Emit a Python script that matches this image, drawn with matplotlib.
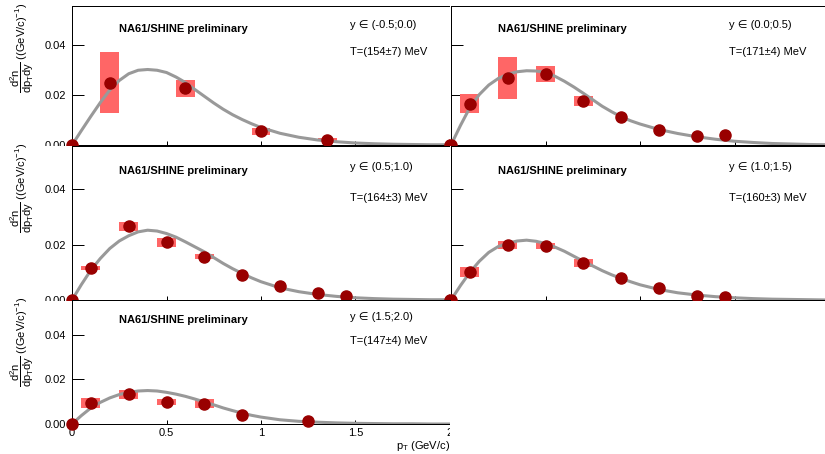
import numpy as np
import matplotlib
matplotlib.use('Agg')
import matplotlib.pyplot as plt
from matplotlib.patches import Rectangle

plt.rcParams['font.family'] = ['Liberation Sans', 'DejaVu Sans']
plt.rcParams['mathtext.fontset'] = 'custom'
plt.rcParams['mathtext.rm'] = 'Liberation Sans'
plt.rcParams['mathtext.it'] = 'Liberation Sans'
plt.rcParams['mathtext.bf'] = 'Liberation Sans:bold'

#####################################################################
# data
#####################################################################
rap_labels = ['y ∈ (-0.5;0.0)', 'y ∈ (0.0;0.5)', 'y ∈ (0.5;1.0)',
              'y ∈ (1.0;1.5)', 'y ∈ (1.5;2.0)']
temp_labels = ['T=(154±7) MeV', 'T=(171±4) MeV', 'T=(164±3) MeV',
               'T=(160±3) MeV', 'T=(147±4) MeV']

pt_1 = [0.0, 0.2, 0.6, 1.0, 1.35, 2.0]
val_1 = [0.0, 0.0247, 0.0227, 0.0056, 0.0020, 0.0]
lo_1 = [0.0, 0.0127, 0.0190, 0.0041, 0.0014, 0.0]
hi_1 = [0.0, 0.0371, 0.0260, 0.0069, 0.0026, 0.0]

pt_2 = [0.0, 0.1, 0.3, 0.5, 0.7, 0.9, 1.1, 1.3, 1.45]
val_2 = [0.0, 0.0164, 0.0267, 0.0284, 0.0177, 0.0111, 0.0060, 0.0036, 0.0040]
lo_2 = [0.0, 0.0127, 0.0183, 0.0253, 0.0156, 0.0111, 0.0060, 0.0036, 0.0040]
hi_2 = [0.0, 0.0203, 0.0353, 0.0316, 0.0196, 0.0111, 0.0060, 0.0036, 0.0040]

pt_3 = [0.0, 0.1, 0.3, 0.5, 0.7, 0.9, 1.1, 1.3, 1.45, 2.0]
val_3 = [0.0, 0.0116, 0.0267, 0.0208, 0.0156, 0.0090, 0.0052, 0.0024, 0.0016, 0.0]
lo_3 = [0.0, 0.0108, 0.0250, 0.0190, 0.0147, 0.0090, 0.0052, 0.0024, 0.0016, 0.0]
hi_3 = [0.0, 0.0122, 0.0280, 0.0225, 0.0166, 0.0090, 0.0052, 0.0024, 0.0016, 0.0]

pt_4 = [0.0, 0.1, 0.3, 0.5, 0.7, 0.9, 1.1, 1.3, 1.45]
val_4 = [0.0, 0.0102, 0.0198, 0.0195, 0.0132, 0.0078, 0.0042, 0.0016, 0.0012]
lo_4 = [0.0, 0.0084, 0.0183, 0.0183, 0.0120, 0.0078, 0.0042, 0.0016, 0.0012]
hi_4 = [0.0, 0.0120, 0.0214, 0.0204, 0.0147, 0.0078, 0.0042, 0.0016, 0.0012]

pt_5 = [0.0, 0.1, 0.3, 0.5, 0.7, 0.9, 1.25]
val_5 = [0.0, 0.0094, 0.0133, 0.0097, 0.0091, 0.0040, 0.0015]
lo_5 = [0.0, 0.0072, 0.0112, 0.0085, 0.0072, 0.0040, 0.0015]
hi_5 = [0.0, 0.0115, 0.0151, 0.0112, 0.0112, 0.0040, 0.0015]

# fitted curves, read every 0.05 GeV/c up to 1, then every 0.1
fit_pt = [0.0, 0.05, 0.1, 0.15, 0.2, 0.25, 0.3, 0.35, 0.4, 0.45, 0.5,
          0.55, 0.6, 0.65, 0.7, 0.75, 0.8, 0.85, 0.9, 0.95, 1.0,
          1.1, 1.2, 1.3, 1.4, 1.5, 1.6, 1.7, 1.8, 1.9, 2.0]
fit_1 = [0.0, 0.0058, 0.0115, 0.0170, 0.0220, 0.0258, 0.0285, 0.0299, 0.0302, 0.0299, 0.0290,
         0.0272, 0.0250, 0.0222, 0.0195, 0.0168, 0.0143, 0.0121, 0.0102, 0.0085, 0.0070,
         0.0047, 0.0031, 0.0020, 0.0013, 0.0008, 0.0005, 0.0003, 0.0002, 0.0001, 0.0001]
fit_2 = [0.0, 0.0078, 0.0150, 0.0202, 0.0240, 0.0266, 0.0283, 0.0293, 0.0297, 0.0296, 0.0290,
         0.0275, 0.0255, 0.0232, 0.0207, 0.0181, 0.0155, 0.0133, 0.0113, 0.0097, 0.0084,
         0.0062, 0.0046, 0.0033, 0.0023, 0.0015, 0.0010, 0.0006, 0.0004, 0.0002, 0.0001]
fit_3 = [0.0, 0.0056, 0.0108, 0.0150, 0.0186, 0.0213, 0.0232, 0.0246, 0.0252, 0.0249, 0.0240,
         0.0227, 0.0210, 0.0192, 0.0174, 0.0153, 0.0132, 0.0113, 0.0096, 0.0080, 0.0066,
         0.0044, 0.0030, 0.0020, 0.0013, 0.0008, 0.0005, 0.0003, 0.0002, 0.0001, 0.0001]
fit_4 = [0.0, 0.0052, 0.0100, 0.0140, 0.0172, 0.0193, 0.0205, 0.0213, 0.0216, 0.0212, 0.0204,
         0.0191, 0.0176, 0.0158, 0.0140, 0.0123, 0.0106, 0.0091, 0.0078, 0.0066, 0.0055,
         0.0038, 0.0026, 0.0018, 0.0012, 0.0008, 0.0005, 0.0003, 0.0002, 0.0001, 0.0000]
fit_5 = [0.0, 0.0038, 0.0072, 0.0097, 0.0117, 0.0132, 0.0142, 0.0148, 0.0150, 0.0148, 0.0142,
         0.0134, 0.0124, 0.0112, 0.0099, 0.0086, 0.0072, 0.0060, 0.0049, 0.0039, 0.0031,
         0.0019, 0.0012, 0.0008, 0.0005, 0.0003, 0.0002, 0.0001, 0.0001, 0.0000, 0.0000]

panels = [
    (pt_1, val_1, lo_1, hi_1, fit_1),
    (pt_2, val_2, lo_2, hi_2, fit_2),
    (pt_3, val_3, lo_3, hi_3, fit_3),
    (pt_4, val_4, lo_4, hi_4, fit_4),
    (pt_5, val_5, lo_5, hi_5, fit_5),
]

#####################################################################
# layout (pixels of the 825x454 canvas)
#####################################################################
W, H = 825.0, 454.0
col_x = [(72, 450), (451, 829)]
row_y = [(6, 145), (146, 300), (300, 424)]
pad_x = [(0, 450.5), (450.5, 825)]
pad_y = [(0, 145.6), (145.6, 300.5), (300.5, 454)]

mark_col = '#990000'
box_col = '#ff6666'
fit_col = '#999999'
fs = 8

fig = plt.figure(figsize=(W / 100, H / 100), dpi=100)


def add_pad(r, c, z):
    x0, x1 = pad_x[c]
    y0, y1 = pad_y[r]
    pad = fig.add_axes([x0 / W, 1 - y1 / H, (x1 - x0) / W, (y1 - y0) / H])
    pad.set_axis_off()
    pad.add_patch(Rectangle((0, 0), 1, 1, transform=pad.transAxes,
                            facecolor='white', edgecolor='none'))
    pad.set_zorder(z)
    return pad


ylab = r'$\dfrac{\mathrm{d}^{2}\mathrm{n}}{\mathrm{dp}_{\mathrm{T}}\mathrm{dy}}$ ((GeV/c)$^{-1}$)'

for i, (pt, val, lo, hi, fit) in enumerate(panels):
    r, c = divmod(i, 2)
    add_pad(r, c, 2 * i)
    x0, x1 = col_x[c]
    y0, y1 = row_y[r]
    ax = fig.add_axes([x0 / W, 1 - y1 / H, (x1 - x0) / W, (y1 - y0) / H])
    ax.set_zorder(2 * i + 1)

    # systematic boxes
    for p, l, h in zip(pt, lo, hi):
        if h > l:
            ax.add_patch(Rectangle((p - 0.05, l), 0.1, h - l, facecolor=box_col,
                                   edgecolor='none', zorder=2, clip_on=False))
    ax.plot(fit_pt, fit, color=fit_col, lw=2.2, zorder=3,
            solid_joinstyle='round', solid_capstyle='round')
    ax.plot(pt, val, 'o', color=mark_col, ms=8, zorder=4, clip_on=False)

    ax.set_xlim(0, 2)
    ax.set_ylim(0, 0.0556)
    ax.set_xticks([0, 0.5, 1, 1.5, 2])
    ax.set_yticks([0, 0.02, 0.04])
    ax.tick_params(axis='y', direction='in', length=8.6, width=0.72, pad=4, labelsize=fs)
    ax.tick_params(axis='x', direction='in', length=3, width=0.72, pad=3, labelsize=fs)
    for s in ax.spines.values():
        s.set_linewidth(0.72)
    if c == 0:
        ax.set_yticklabels(['0.00', '0.02', '0.04'])
        ax.annotate(ylab, xy=(0, 1), xycoords='axes fraction', xytext=(-50, 3),
                    textcoords='offset pixels', rotation=90, ha='center', va='top',
                    fontsize=fs)
    else:
        ax.set_yticklabels([])
    if i == 4:
        ax.set_xticklabels(['0', '0.5', '1', '1.5', '2'])
        ax.annotate(r'p$_{\mathrm{T}}$ (GeV/c)', xy=(1, 0), xycoords='axes fraction',
                    xytext=(0, -22), textcoords='offset pixels', ha='right',
                    va='center', fontsize=fs)
    else:
        ax.set_xticklabels([])

    ax.text(0.25, 0.0465, 'NA61/SHINE preliminary', fontsize=fs, fontweight='bold',
            va='center', ha='left')
    ax.text(1.47, 0.048, rap_labels[i], fontsize=fs, va='center', ha='left')
    ax.text(1.47, 0.037, temp_labels[i], fontsize=fs, va='center', ha='left')

# empty pad in the lower right corner
add_pad(2, 1, 10)

fig.savefig('out.png', dpi=100)
